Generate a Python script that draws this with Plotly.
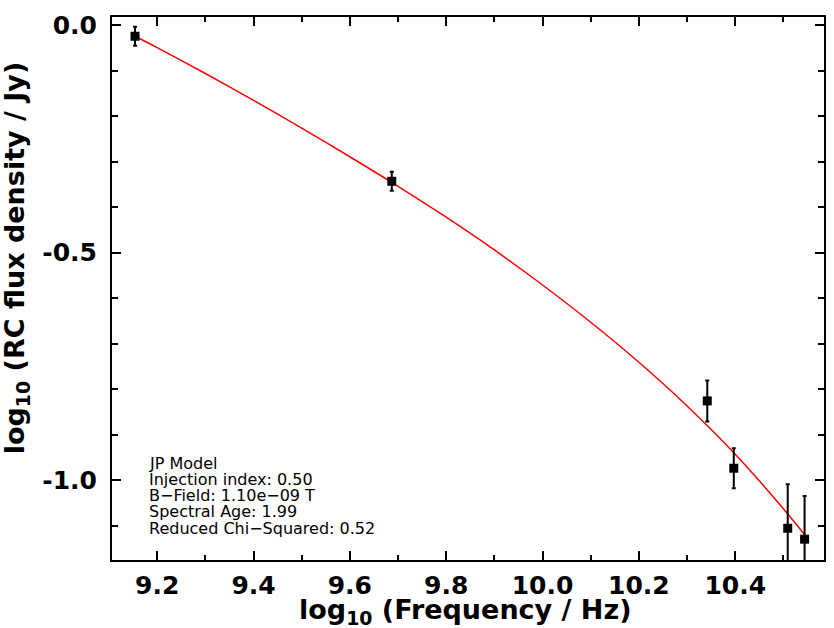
import plotly.graph_objects as go

# Observed data (log10 frequency / Hz, log10 flux density / Jy)
log_freq = [9.154, 9.687, 10.342, 10.397, 10.509, 10.544]
log_flux = [-0.024, -0.343, -0.826, -0.974, -1.106, -1.130]
flux_err = [0.021, 0.021, 0.045, 0.044, 0.097, 0.095]

# JP model fit curve
model_x = [9.154, 9.2, 9.3, 9.4, 9.5, 9.6, 9.7, 9.8, 9.9, 10.0,
           10.1, 10.2, 10.3, 10.4, 10.5, 10.544]
model_y = [-0.024, -0.049, -0.106, -0.165, -0.226, -0.289, -0.354, -0.422,
           -0.494, -0.571, -0.653, -0.741, -0.837, -0.943, -1.063, -1.120]

x_ticks = [9.2, 9.4, 9.6, 9.8, 10.0, 10.2, 10.4]
x_tick_labels = ["9.2", "9.4", "9.6", "9.8", "10.0", "10.2", "10.4"]
y_ticks = [0.0, -0.5, -1.0]
y_tick_labels = ["0.0", "-0.5", "-1.0"]

info_lines = ["JP Model", "Injection index: 0.50", "B\u2212Field: 1.10e\u221209 T",
              "Spectral Age: 1.99", "Reduced Chi\u2212Squared: 0.52"]

x_title = "log<sub>10</sub> (Frequency / Hz)"
y_title = "log<sub>10</sub> (RC flux density / Jy)"

W, H = 834, 628
ML, MR, MT, MB = 112, 8, 17, 68

fig = go.Figure()
fig.add_trace(go.Scatter(
    x=model_x, y=model_y, mode="lines",
    line=dict(color="#ff0000", width=1.5, shape="spline", smoothing=0.8),
    showlegend=False, hoverinfo="skip"))
fig.add_trace(go.Scatter(
    x=log_freq, y=log_flux, mode="markers",
    marker=dict(symbol="square", size=9, color="black"),
    error_y=dict(type="data", array=flux_err, visible=True, color="black",
                 thickness=2, width=2),
    showlegend=False))

tickfont = dict(family="DejaVu Sans", size=25, color="black", weight="bold")
fig.update_layout(
    width=W, height=H,
    margin=dict(l=ML, r=MR, t=MT, b=MB),
    paper_bgcolor="white", plot_bgcolor="white",
    font=dict(family="DejaVu Sans", color="black"),
    xaxis=dict(range=[9.1062, 10.5843], tickvals=x_ticks, ticktext=x_tick_labels,
               ticks="inside", ticklen=9, tickwidth=1.5, tickcolor="black",
               showline=True, linecolor="black", linewidth=2, mirror="ticks",
               showgrid=False, zeroline=False, tickfont=tickfont,
               ticklabelstandoff=2,
               minor=dict(dtick=0.1, tick0=9.1, ticks="inside", ticklen=5,
                          tickwidth=1.5, tickcolor="black", showgrid=False)),
    yaxis=dict(range=[-1.1758, 0.0183], tickvals=y_ticks, ticktext=y_tick_labels,
               ticks="inside", ticklen=9, tickwidth=1.5, tickcolor="black",
               showline=True, linecolor="black", linewidth=2, mirror="ticks",
               showgrid=False, zeroline=False, tickfont=tickfont,
               ticklabelstandoff=8,
               minor=dict(dtick=0.1, tick0=0, ticks="inside", ticklen=6,
                          tickwidth=1.5, tickcolor="black", showgrid=False)),
)

titlefont = dict(family="DejaVu Sans", size=27, color="black", weight="bold")
fig.add_annotation(text=x_title, xref="paper", yref="paper",
                   x=(466 - ML) / (W - ML - MR), y=-(611 - (H - MB)) / (H - MT - MB),
                   showarrow=False, xanchor="center", yanchor="middle", font=titlefont)
fig.add_annotation(text=y_title, xref="paper", yref="paper",
                   x=-(ML - 16) / (W - ML - MR), y=((H - MB) - 258) / (H - MT - MB),
                   showarrow=False, xanchor="center", yanchor="middle", textangle=-90,
                   font=titlefont)

# info text block
for i, line in enumerate(info_lines):
    py = 463 + i * 16.3
    fig.add_annotation(text=line, xref="paper", yref="paper",
                       x=(147 - ML) / (W - ML - MR), y=((H - MB) - py) / (H - MT - MB),
                       showarrow=False, xanchor="left", yanchor="middle",
                       font=dict(family="DejaVu Sans", size=16, color="black"))

fig.write_html("out.html", config={"displayModeBar": False},
               post_script="document.body.style.margin='0px';document.body.style.padding='0px';")
